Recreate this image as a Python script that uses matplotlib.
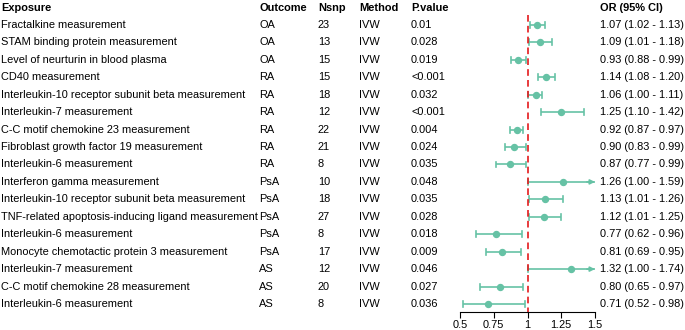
import matplotlib
matplotlib.use("Agg")
import matplotlib.pyplot as plt
from matplotlib import transforms

plt.rcParams['font.family'] = ['Liberation Sans', 'DejaVu Sans']

exposure = ["Fractalkine measurement", "STAM binding protein measurement",
            "Level of neurturin in blood plasma", "CD40 measurement",
            "Interleukin-10 receptor subunit beta measurement", "Interleukin-7 measurement",
            "C-C motif chemokine 23 measurement", "Fibroblast growth factor 19 measurement",
            "Interleukin-6 measurement", "Interferon gamma measurement",
            "Interleukin-10 receptor subunit beta measurement",
            "TNF-related apoptosis-inducing ligand measurement", "Interleukin-6 measurement",
            "Monocyte chemotactic protein 3 measurement", "Interleukin-7 measurement",
            "C-C motif chemokine 28 measurement", "Interleukin-6 measurement"]
outcome = ["OA", "OA", "OA", "RA", "RA", "RA", "RA", "RA", "RA",
           "PsA", "PsA", "PsA", "PsA", "PsA", "AS", "AS", "AS"]
nsnp = [23, 13, 15, 15, 18, 12, 22, 21, 8, 10, 18, 27, 8, 17, 12, 20, 8]
method = ["IVW"] * 17
pvalue = ["0.01", "0.028", "0.019", "<0.001", "0.032", "<0.001", "0.004", "0.024", "0.035",
          "0.048", "0.035", "0.028", "0.018", "0.009", "0.046", "0.027", "0.036"]
or_val = [1.07, 1.09, 0.93, 1.14, 1.06, 1.25, 0.92, 0.90, 0.87, 1.26, 1.13, 1.12, 0.77, 0.81, 1.32, 0.80, 0.71]
lo = [1.02, 1.01, 0.88, 1.08, 1.00, 1.10, 0.87, 0.83, 0.77, 1.00, 1.01, 1.01, 0.62, 0.69, 1.00, 0.65, 0.52]
hi = [1.13, 1.18, 0.99, 1.20, 1.11, 1.42, 0.97, 0.99, 0.99, 1.59, 1.26, 1.25, 0.96, 0.95, 1.74, 0.97, 0.98]
headers = ["Exposure", "Outcome", "Nsnp", "Method", "P.value", "OR (95% CI)"]
xticks = [0.5, 0.75, 1, 1.25, 1.5]
xticklabels = ["0.5", "0.75", "1", "1.25", "1.5"]

W, H = 685, 330
fig = plt.figure(figsize=(W / 100, H / 100), dpi=100)
ax = fig.add_axes([460 / W, 18 / H, 135 / W, 312 / H])
xmin, xmax = 0.5, 1.5
ax.set_xlim(xmin, xmax)
ax.set_ylim(16.46, -1.433)

col = "#66C2A5"
fs = 7.9
n = len(exposure)
for i in range(n):
    l = max(lo[i], xmin)
    h = min(hi[i], xmax)
    ax.plot([l, h], [i, i], color=col, lw=1.2, solid_capstyle='butt')
    ax.plot([l, l], [i - 0.17, i + 0.17], color=col, lw=1.2)
    if hi[i] > xmax:
        ax.annotate("", xy=(xmax, i), xytext=(xmax - 0.06, i),
                    arrowprops=dict(arrowstyle="-|>", color=col, lw=1.2,
                                    mutation_scale=7, shrinkA=0, shrinkB=0))
    else:
        ax.plot([h, h], [i - 0.17, i + 0.17], color=col, lw=1.2)
    ax.plot(or_val[i], i, 'o', color=col, ms=4.3)

ax.vlines(1, -0.6, 16.46, colors="#E41A1C", linestyles=(0, (4, 2.5)), lw=1.2)

for s in ["top", "right", "left"]:
    ax.spines[s].set_visible(False)
ax.spines["bottom"].set_linewidth(0.8)
ax.set_yticks([])
ax.set_xticks(xticks)
ax.set_xticklabels(xticklabels, fontsize=fs)
ax.tick_params(axis='x', length=4.3, width=0.8, pad=1.5)

tr = transforms.blended_transform_factory(fig.transFigure, ax.transData)
colx = [1 / W, 259 / W, 318 / W, 359 / W, 411 / W, 600 / W]
for j, htxt in enumerate(headers):
    ax.text(colx[j], -1, htxt, transform=tr, fontsize=fs, fontweight="bold",
            va="center", ha="left", clip_on=False)
for i in range(n):
    vals = [exposure[i], outcome[i], str(nsnp[i]), method[i], pvalue[i],
            f"{or_val[i]:.2f} ({lo[i]:.2f} - {hi[i]:.2f})"]
    for j, v in enumerate(vals):
        ax.text(colx[j], i, v, transform=tr, fontsize=fs, va="center", ha="left",
                clip_on=False)

fig.savefig("out.png", dpi=100)
